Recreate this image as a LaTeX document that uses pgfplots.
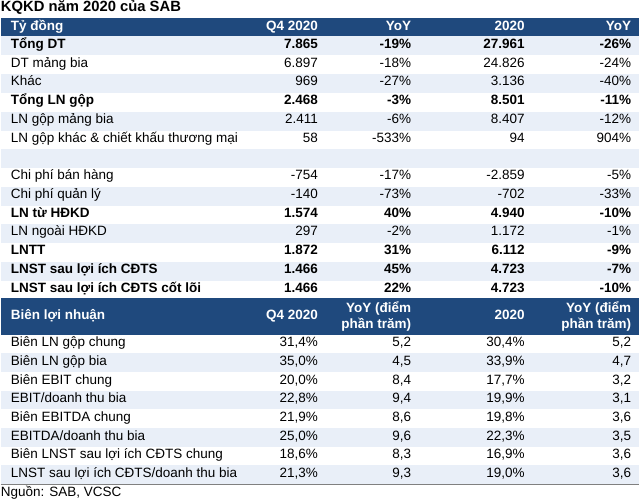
\documentclass[border=0pt]{standalone}
\usepackage{fontspec}
\setmainfont{Liberation Sans}
\usepackage{pgfplots}
\pgfplotsset{compat=1.18}
\definecolor{hdr}{RGB}{31,73,125}
\definecolor{lite}{RGB}{233,239,248}
\newcommand\rowbg[3]{\addplot[fill=#3,draw=none] coordinates {(5,#1)(635,#1)(635,#2)(5,#2)} -- cycle;}
\newcommand\trow[6]{%
  \node[anchor=mid west] at (axis cs:15,#1) {#2};
  \node[anchor=mid east] at (axis cs:318,#1) {#3};
  \node[anchor=mid east] at (axis cs:410,#1) {#4};
  \node[anchor=mid east] at (axis cs:522,#1) {#5};
  \node[anchor=mid east] at (axis cs:627,#1) {#6};}
\newcommand\brow[6]{\trow{#1}{\textbf{#2}}{\textbf{#3}}{\textbf{#4}}{\textbf{#5}}{\textbf{#6}}}
\newcommand\fs{\fontsize{13.3}{16.5}\selectfont}
\begin{document}
\begin{tikzpicture}[every node/.style={inner sep=0pt,font=\fs}]
\begin{axis}[width=640pt,height=504pt,scale only axis,
  xmin=0,xmax=640,ymin=0,ymax=504,y dir=reverse,
  axis lines=none,clip=false]
% backgrounds
\rowbg{21.5}{39.5}{hdr}
\rowbg{39.5}{58}{lite}
\rowbg{77}{95.5}{lite}
\rowbg{114}{132.5}{lite}
\rowbg{151}{169.5}{lite}
\rowbg{188}{206.5}{lite}
\rowbg{225}{243.5}{lite}
\rowbg{262}{280.5}{lite}
\rowbg{298}{334}{hdr}
\rowbg{352.4}{370.8}{lite}
\rowbg{389.2}{407.6}{lite}
\rowbg{426}{444.4}{lite}
\rowbg{462.8}{481.2}{lite}
\addplot[draw=gray,line width=1.3pt] coordinates {(5,481.5)(635,481.5)};
% title
\node[anchor=mid west,font=\fontsize{14.6}{17}\selectfont\bfseries] at (axis cs:5,12) {KQKD năm 2020 của SAB};
% header 1
\node[anchor=mid west,text=white,font=\fs\bfseries] at (axis cs:15,31) {Tỷ đồng};
\node[anchor=mid east,text=white,font=\fs\bfseries] at (axis cs:318,31) {Q4 2020};
\node[anchor=mid east,text=white,font=\fs\bfseries] at (axis cs:410,31) {YoY};
\node[anchor=mid east,text=white,font=\fs\bfseries] at (axis cs:522,31) {2020};
\node[anchor=mid east,text=white,font=\fs\bfseries] at (axis cs:627,31) {YoY};
% rows
\brow{48.75}{Tổng DT}{7.865}{-19\%}{27.961}{-26\%}
\trow{67.25}{DT mảng bia}{6.897}{-18\%}{24.826}{-24\%}
\trow{85.75}{Khác}{969}{-27\%}{3.136}{-40\%}
\brow{104.25}{Tổng LN gộp}{2.468}{-3\%}{8.501}{-11\%}
\trow{122.75}{LN gộp mảng bia}{2.411}{-6\%}{8.407}{-12\%}
\trow{141.25}{LN gộp khác \& chiết khấu thương mại}{58}{-533\%}{94}{904\%}
\trow{178.25}{Chi phí bán hàng}{-754}{-17\%}{-2.859}{-5\%}
\trow{196.75}{Chi phí quản lý}{-140}{-73\%}{-702}{-33\%}
\brow{215.25}{LN từ HĐKD}{1.574}{40\%}{4.940}{-10\%}
\trow{233.75}{LN ngoài HĐKD}{297}{-2\%}{1.172}{-1\%}
\brow{252.25}{LNTT}{1.872}{31\%}{6.112}{-9\%}
\brow{270.75}{LNST sau lợi ích CĐTS}{1.466}{45\%}{4.723}{-7\%}
\brow{289.25}{LNST sau lợi ích CĐTS cốt lõi}{1.466}{22\%}{4.723}{-10\%}
% header 2
\node[anchor=mid west,text=white,font=\fs\bfseries] at (axis cs:15,316) {Biên lợi nhuận};
\node[anchor=mid east,text=white,font=\fs\bfseries] at (axis cs:318,316) {Q4 2020};
\node[anchor=east,align=right,text=white,font=\fs\bfseries] at (axis cs:410,316) {YoY (điểm\\phần trăm)};
\node[anchor=mid east,text=white,font=\fs\bfseries] at (axis cs:522,316) {2020};
\node[anchor=east,align=right,text=white,font=\fs\bfseries] at (axis cs:627,316) {YoY (điểm\\phần trăm)};
\trow{343.2}{Biên LN gộp chung}{31,4\%}{5,2}{30,4\%}{5,2}
\trow{361.6}{Biên LN gộp bia}{35,0\%}{4,5}{33,9\%}{4,7}
\trow{380.0}{Biên EBIT chung}{20,0\%}{8,4}{17,7\%}{3,2}
\trow{398.4}{EBIT/doanh thu bia}{22,8\%}{9,4}{19,9\%}{3,1}
\trow{416.8}{Biên EBITDA chung}{21,9\%}{8,6}{19,8\%}{3,6}
\trow{435.2}{EBITDA/doanh thu bia}{25,0\%}{9,6}{22,3\%}{3,5}
\trow{453.6}{Biên LNST sau lợi ích CĐTS chung}{18,6\%}{8,3}{16,9\%}{3,6}
\trow{472.0}{LNST sau lợi ích CĐTS/doanh thu bia}{21,3\%}{9,3}{19,0\%}{3,6}
\node[anchor=mid west] at (axis cs:5,491) {Nguồn: SAB, VCSC};
\end{axis}
\end{tikzpicture}
\end{document}
